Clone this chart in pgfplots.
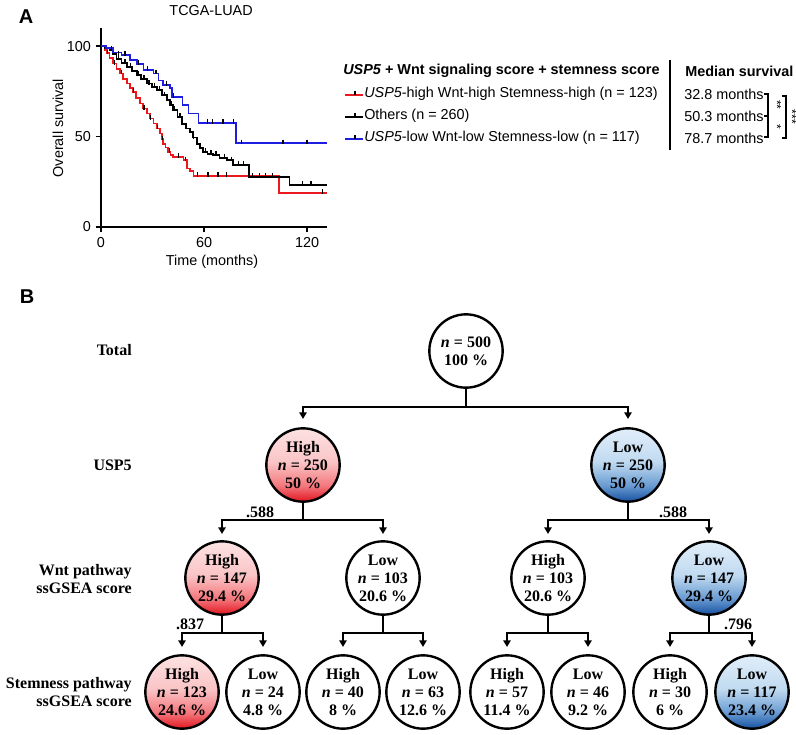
\documentclass[border=0pt]{standalone}
\usepackage{pgfplots}
\pgfplotsset{compat=1.18}
\usepackage{fontspec}
\setmainfont{Liberation Sans}
\newfontfamily\timesf{Liberation Serif}
\usetikzlibrary{arrows.meta}
\definecolor{kmred}{RGB}{235,25,30}
\definecolor{kmblue}{RGB}{30,30,225}
\definecolor{rdark}{RGB}{228,30,40}
\definecolor{rmid}{RGB}{243,120,125}
\definecolor{rl2}{RGB}{250,196,198}
\definecolor{rl}{RGB}{253,226,226}
\definecolor{bdark}{RGB}{30,88,165}
\definecolor{bmid}{RGB}{105,155,210}
\definecolor{bl2}{RGB}{192,218,240}
\definecolor{bl}{RGB}{226,238,250}
\pgfdeclareverticalshading{redball}{100bp}{color(0bp)=(rdark); color(26bp)=(rdark); color(36bp)=(rmid); color(52bp)=(rl2); color(75bp)=(rl); color(100bp)=(rl)}
\pgfdeclareverticalshading{blueball}{100bp}{color(0bp)=(bdark); color(26bp)=(bdark); color(36bp)=(bmid); color(52bp)=(bl2); color(75bp)=(bl); color(100bp)=(bl)}
\newcommand\treefont{\timesf\bfseries\fontsize{12}{13.5}\selectfont}
\newcommand\axfont{\fontsize{10.8}{12}\selectfont}
\begin{document}
\begin{tikzpicture}[x=0.75pt,y=0.75pt,
  tn/.style={circle, draw, line width=1.8pt, minimum size=55pt, inner sep=0pt, align=center, font=\treefont},
  conn/.style={line width=1.5pt},
  arr/.style={line width=1.5pt, -{Triangle[width=5.5pt,length=5pt]}}]
\path[use as bounding box] (0,0) rectangle (796,-735);

% ---------- Panel A ----------
\node[font=\bfseries\fontsize{15}{16}\selectfont] at (26,-17) {A};
\begin{axis}[at={(75.75pt,-170.25pt)}, anchor=south west, scale only axis,
  width=169.5pt, height=149.25pt,
  xmin=0, xmax=131.6, ymin=0, ymax=110,
  axis x line*=bottom, axis y line*=left,
  axis line style={line width=1.5pt, -},
  xtick={0,60,120}, ytick={0,50,100},
  tick align=outside, major tick length=4pt,
  tick style={line width=1.2pt, black},
  tick label style={font=\axfont},
  /pgf/number format/assume math mode=true,
  xlabel={Time (months)}, ylabel={Overall survival},
  label style={font=\axfont},
  xlabel style={at={(axis description cs:0.491,-0.176)}, anchor=center},
  ylabel style={at={(axis description cs:-0.19,0.497)}, anchor=center},
  every axis title shift=0pt,
  title={TCGA-LUAD}, title style={font=\axfont, at={(axis description cs:0.487,1.09)}, anchor=center},
  cens/.style={only marks, mark=|, mark size=1.8pt, mark options={line width=0.9pt, yshift=1pt}, black},
  clip=false]
\addplot[const plot, kmred, line width=1.3pt] coordinates {
(0,100) (2,98) (3.3,96) (5,93.5) (7.2,90.4) (9,87.5) (11,84.9) (13,82) (15,79.3) (17,77) (18.8,74.7) (20.5,71.5) (22.7,68.3) (24.5,65.5) (26.6,62.7) (28.5,60) (30.5,57.2) (32.5,54.5) (34.4,51.7) (35.5,48.5) (36.3,46) (37.5,44) (39.2,41.5) (40.5,40) (42.1,38.7) (48,36.9) (50,32.3) (52,31) (53.8,28.3) (103.8,18.8) (131.6,18.8)};
\addplot[const plot, black, line width=1.3pt] coordinates {
(0,100) (2.5,99) (5.2,97.8) (7,95.5) (9.1,93) (12,90.8) (15,88.6) (18,86.3) (20.8,84) (23.5,81.8) (26.6,79.3) (29.5,77.5) (32.4,75.6) (35.5,72.8) (38.3,70) (40,67.5) (42.1,64.6) (44.5,61) (47,57) (49.5,54.5) (51.8,52.6) (53.5,49.5) (55.7,46) (57.5,43.5) (59.6,41.5) (62,40.5) (65.4,39.7) (69,38.2) (73.2,36.9) (77,34.2) (86.1,27.8) (109.7,23.3) (131.6,23.3)};
\addplot[const plot, kmblue, line width=1.3pt] coordinates {
(0,100) (3,99) (7,96.5) (12,95) (17,92.5) (20.8,90) (24.7,86.7) (30.5,84.9) (33.5,81) (36.3,78.4) (40.2,77) (41.2,72) (47.5,67.3) (50.9,62.7) (56.7,57.6) (78.4,46.3) (131.6,46.3)};
% censor marks
\addplot[cens] coordinates {
(10,95) (14,95) (22,90) (27,86.7) (32,84.9) (38,78.4) (42,72) (62,57.6) (65,57.6) (71,57.6) (77,57.6) (82,46.3) (106,46.3) (120,46.3)};
\addplot[cens] coordinates {
(6,97.8) (10,93) (14,90.8) (17,88.6) (22,84) (25,81.8) (28,79.3) (31,77.5) (34,75.6) (37,72.8) (41,67.5) (43,64.6) (46,61) (50,54.5) (54,49.5) (58,43.5) (61,41.5) (64,40.5) (67,39.7) (72,38.2) (76,36.9) (80,34.2) (83,34.2) (88.4,27.8) (92.3,27.8) (96,27.8) (100,27.8) (117.5,23.3) (122.3,23.3)};
\addplot[cens] coordinates {
(4,96) (8,90.4) (12,84.9) (19,74.7) (25,65.5) (29,60) (33,54.5) (36,48.5) (40,41.5) (45,38.7) (49,36.9) (56,28.3) (62.3,28.3) (68.1,28.3) (73,28.3) (129,18.8)};
\end{axis}

% legend
\node[anchor=west, font=\axfont\bfseries, inner sep=0pt] at (343,-71) {\textit{USP5} + Wnt signaling score + stemness score};
\draw[kmred, line width=1.3pt] (345,-95) -- (363,-95);
\draw[black, line width=0.8pt] (355,-91) -- (355,-95);
\node[anchor=west, font=\axfont, inner sep=0pt] at (364,-94) {\textit{USP5}-high Wnt-high Stemness-high (n = 123)};
\draw[black, line width=1.3pt] (345,-117) -- (363,-117);
\draw[black, line width=0.8pt] (355,-113) -- (355,-117);
\node[anchor=west, font=\axfont, inner sep=0pt] at (364,-116) {Others (n = 260)};
\draw[kmblue, line width=1.3pt] (345,-139) -- (363,-139);
\draw[black, line width=0.8pt] (355,-135) -- (355,-139);
\node[anchor=west, font=\axfont, inner sep=0pt] at (364,-138) {\textit{USP5}-low Wnt-low Stemness-low (n = 117)};
\draw[line width=1.2pt] (670,-60) -- (670,-150);
\node[anchor=west, font=\axfont\bfseries, inner sep=0pt] at (685,-71) {Median survival};
\node[anchor=west, font=\axfont, inner sep=0pt] at (684,-94) {32.8 months};
\node[anchor=west, font=\axfont, inner sep=0pt] at (684,-116) {50.3 months};
\node[anchor=west, font=\axfont, inner sep=0pt] at (684,-138) {78.7 months};
\draw[line width=0.9pt] (764,-94) -- (768,-94) -- (768,-116) -- (764,-116);
\draw[line width=0.9pt] (768,-116) -- (768,-137) -- (764,-137);
\draw[line width=0.9pt] (782,-96) -- (786,-96) -- (786,-138) -- (782,-138);
\node[rotate=-90, font=\fontsize{9}{10}\selectfont, inner sep=0pt] at (777,-105) {**};
\node[rotate=-90, font=\fontsize{9}{10}\selectfont, inner sep=0pt] at (777,-127) {*};
\node[rotate=-90, font=\fontsize{9}{10}\selectfont, inner sep=0pt] at (792,-117) {***};

% ---------- Panel B ----------
\node[font=\bfseries\fontsize{15}{16}\selectfont] at (27,-297) {B};
\node[anchor=east, font=\treefont, inner sep=0pt] at (132,-350) {Total};
\node[anchor=east, font=\treefont, inner sep=0pt] at (132,-465) {USP5};
\node[anchor=east, font=\treefont, align=right, inner sep=0pt] at (132,-579) {Wnt pathway\\ssGSEA score};
\node[anchor=east, font=\treefont, align=right, inner sep=0pt] at (132,-692) {Stemness pathway\\ssGSEA score};

% connectors
\draw[conn] (466,-389) -- (466,-407);
\draw[arr] (466,-407) -| (303,-419);
\draw[arr] (466,-407) -| (628,-419);
\foreach \p/\l/\r in {303/222/383, 628/548/709}{
  \draw[conn] (\p,-503) -- (\p,-520);
  \draw[arr] (\p,-520) -| (\l,-534);
  \draw[arr] (\p,-520) -| (\r,-534);
}
\foreach \p/\l/\r in {222/182/263, 383/343/423, 548/507/588, 709/670/752}{
  \draw[conn] (\p,-616) -- (\p,-633);
  \draw[arr] (\p,-633) -| (\l,-647);
  \draw[arr] (\p,-633) -| (\r,-647);
}
\node[font=\treefont] at (260,-512) {.588};
\node[font=\treefont] at (673,-512) {.588};
\node[font=\treefont] at (190,-624) {.837};
\node[font=\treefont] at (738,-624) {.796};

% nodes
\node[tn] at (466,-351) {\textit{n} = 500\\100 \%};
\node[tn, shading=redball] at (303,-465) {High\\\textit{n} = 250\\50 \%};
\node[tn, shading=blueball] at (628,-465) {Low\\\textit{n} = 250\\50 \%};
\node[tn, shading=redball] at (222,-578) {High\\\textit{n} = 147\\29.4 \%};
\node[tn] at (383,-578) {Low\\\textit{n} = 103\\20.6 \%};
\node[tn] at (548,-578) {High\\\textit{n} = 103\\20.6 \%};
\node[tn, shading=blueball] at (709,-578) {Low\\\textit{n} = 147\\29.4 \%};
\node[tn, shading=redball] at (182,-692) {High\\\textit{n} = 123\\24.6 \%};
\node[tn] at (263,-692) {Low\\\textit{n} = 24\\4.8 \%};
\node[tn] at (343,-692) {High\\\textit{n} = 40\\8 \%};
\node[tn] at (423,-692) {Low\\\textit{n} = 63\\12.6 \%};
\node[tn] at (507,-692) {High\\\textit{n} = 57\\11.4 \%};
\node[tn] at (588,-692) {Low\\\textit{n} = 46\\9.2 \%};
\node[tn] at (670,-692) {High\\\textit{n} = 30\\6 \%};
\node[tn, shading=blueball] at (752,-692) {Low\\\textit{n} = 117\\23.4 \%};
\end{tikzpicture}
\end{document}
